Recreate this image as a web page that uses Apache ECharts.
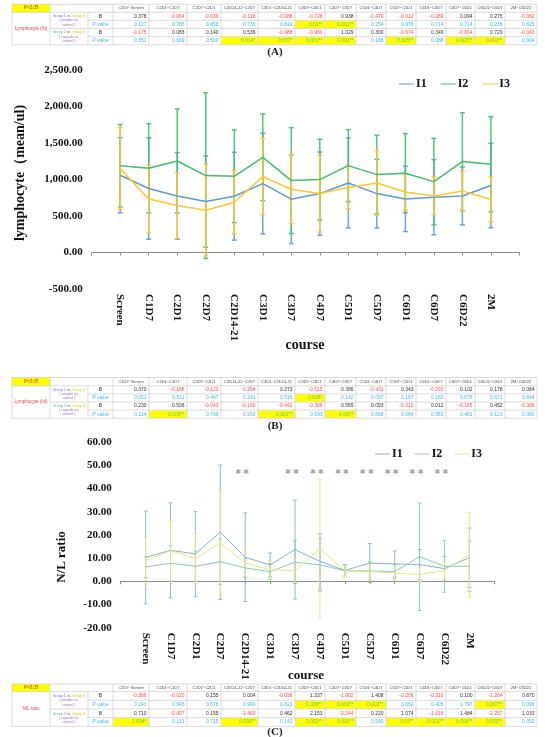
<!DOCTYPE html>
<html><head><meta charset="utf-8">
<script src="https://cdn.jsdelivr.net/npm/echarts@6/dist/echarts.min.js"></script>
<style>html,body{margin:0;padding:0;background:#fff}#c{width:550px;height:737px}</style>
</head><body><div id="c"></div>
<script>
// ---------------- data ----------------
const categories = ['Screen','C1D7','C2D1','C2D7','C2D14-21','C3D1','C3D7','C4D7','C5D1','C5D7','C6D1','C6D7','C6D22','2M'];
const seriesNames = ['I1','I2','I3'];

const lymMeanI1 = [1058, 876, 775, 698, 771, 944, 730, 807, 953, 807, 734, 757, 775, 917];
const lymSdI1   = [515, 694, 593, 625, 602, 689, 607, 570, 616, 470, 447, 515, 397, 579];
const lymMeanI2 = [1190, 1154, 1254, 1054, 1044, 1304, 985, 999, 1190, 1067, 1086, 971, 1245, 1209];
const lymSdI2   = [565, 611, 712, 1135, 634, 593, 725, 552, 493, 538, 542, 593, 671, 652];
const lymMeanI3 = [1149, 734, 643, 579, 689, 1040, 867, 807, 889, 953, 830, 775, 844, 725];
const lymSdI3   = [561, 460, 451, 625, 434, 520, 474, 525, 290, 443, 250, 260, 273, 306];
const lymTicks  = {min: -500, max: 2500, step: 500};

const nlMeanI1 = [10.3, 13.4, 11.8, 21.2, 10.4, 7.1, 13.7, 8.6, 4.7, 7.9, 7.5, 7.2, 5.5, 10.2];
const nlSdI1   = [20.0, 20.5, 18.4, 29.0, 19.1, 5.1, 21.3, 12.0, 2.5, 8.4, 5.6, 6.5, 5.3, 12.8];
const nlMeanI2 = [6.2, 7.8, 6.5, 8.5, 5.8, 4.2, 8.3, 7.1, 4.6, 4.5, 4.2, 10.6, 6.5, 6.5];
const nlSdI2   = [4.5, 7.5, 6.5, 9.8, 4.0, 3.5, 9.2, 11.5, 2.6, 4.0, 3.0, 23.2, 11.2, 10.8];
const nlMeanI3 = [8.9, 13.2, 9.8, 16.5, 7.9, 5.0, 4.6, 14.1, 4.5, 4.2, 3.6, 3.0, 4.6, 11.5];
const nlSdI3   = [10.2, 13.2, 10.8, 22.5, 5.8, 4.0, 5.0, 30.0, 2.4, 4.0, 3.0, 3.0, 4.0, 18.3];
const nlTicks  = {min: -20, max: 60, step: 10};
const nlSigCats = ['C2D14-21','C3D7','C4D7','C5D1','C5D7','C6D1','C6D7','C6D22'];
const nlSigLevel = 47;
const nlSigMark = '✱ ✱';

const tableCols = ['C1D7~Screen','C2D1~C1D7','C2D7~C2D1','C2D14-21~C2D7','C3D1~C2D14-21','C3D7~C3D1','C4D7~C3D7','C5D1~C4D7','C5D7~C5D1','C6D1~C5D7','C6D7~C6D1','C6D22~C6D7','2M~C6D22'];

const tA_B1 = ['0.378','-0.064','-0.039','-0.116','-0.088','-0.728','0.938','-0.470','-0.012','-0.089','0.094','0.275','-0.082'];
const tA_P1 = ['0.127','0.785','0.858','0.736','0.819','0.01**','0.001**','0.254','0.976','0.714','0.714','0.235','0.825'];
const tA_B2 = ['-0.175','0.083','0.140','0.536','-0.488','-0.980','1.029','0.300','-0.674','0.349','-0.664','0.729','-0.043'];
const tA_P2 = ['0.351','0.669','0.500','0.014*','0.037*','0.001**','0.001**','0.188','0.005**','0.088','0.003**','0.003**','0.904'];

const tB_B1 = ['0.370','-0.188','-0.120','-0.264','0.273','-0.515','0.386','-0.432','0.343','-0.293','0.102','0.178','0.064'];
const tB_P1 = ['0.051','0.511','0.447','0.241','0.516','0.028*','0.142','0.097','0.167','0.181','0.678','0.671','0.844'];
const tB_B2 = ['0.230','0.506','-0.043','-0.180','-0.442','-0.306','0.565','0.093','-0.310','0.012','-0.185','0.452','-0.306'];
const tB_P2 = ['0.114','0.009**','0.799','0.291','0.001**','0.193','0.047*','0.668','0.084','0.953','0.461','0.121','0.380'];

const tC_B1 = ['-0.366','-0.020','0.155','0.004','-0.096','1.337','-1.802','1.408','-0.206','-0.316','0.100','-1.264','0.870'];
const tC_P1 = ['0.243','0.946','0.578','0.990','0.821','0.008**','0.000**','0.002**','0.662','0.405','0.797','0.007**','0.096'];
const tC_B2 = ['0.710','-0.407','0.155','-1.463','0.462','2.153','-2.244','0.220','1.074','-1.016','1.484','-2.257','1.033'];
const tC_P2 = ['0.034*','0.113','0.715','0.000**','0.141','0.000**','0.000**','0.545','0.01**','0.001**','0.000**','0.000**','0.052'];

// ---------------- layout / style ----------------
const SERIF = '"Liberation Serif","Times New Roman",serif';
const SANS = '"Liberation Sans",Arial,sans-serif';
const colorsA = ['#5b9bd5', '#3fbf6a', '#ffc62e'];
const colorsB = ['#7eb3d3', '#7fcdb6', '#ece47f'];
const cat16 = [' '].concat(categories, ['  ']);

function fmt2(v){ return v.toLocaleString('en-US',{minimumFractionDigits:2, maximumFractionDigits:2}); }

function lineSeries(name, means, color, gi, lw){
  return {type:'line', name, xAxisIndex: gi*2, yAxisIndex: gi,
    data: means.map((v,i)=>[i+1, v]), symbol:'none', showSymbol:false,
    lineStyle:{color, width:lw}, itemStyle:{color}, z:4, animation:false, silent:true};
}
function errSeries(name, means, sds, color, gi, lw, cap){
  return {type:'custom', name: name+' err', xAxisIndex: gi*2, yAxisIndex: gi,
    data: means.map((v,i)=>[i+1, v, sds[i]]), encode:{x:0, y:1},
    renderItem(params, api){
      const x = api.value(0), m = api.value(1), e = api.value(2);
      const p1 = api.coord([x, m+e]), p2 = api.coord([x, m-e]);
      const st = {stroke: color, lineWidth: lw, opacity: 0.9};
      return {type:'group', children:[
        {type:'line', shape:{x1:p1[0],y1:p1[1],x2:p2[0],y2:p2[1]}, style:st},
        {type:'line', shape:{x1:p1[0]-cap,y1:p1[1],x2:p1[0]+cap,y2:p1[1]}, style:st},
        {type:'line', shape:{x1:p2[0]-cap,y1:p2[1],x2:p2[0]+cap,y2:p2[1]}, style:st}
      ]};
    }, z:3, animation:false, silent:true, clip:false};
}

function xAxes(gi){
  return [
    {type:'category', gridIndex:gi, data:cat16, boundaryGap:false, position:'bottom',
     axisLine:{show:true, onZero:true, lineStyle:{color:'#8c8c8c', width:1}},
     axisTick:{show:true, length:3, interval:0, lineStyle:{color:'#8c8c8c'}},
     axisLabel:{show:false}, splitLine:{show:false}},
    {type:'category', gridIndex:gi, data:cat16, boundaryGap:false, position:'bottom',
     axisLine:{show:false, onZero:false}, axisTick:{show:false},
     axisLabel:{show:true, interval:0, rotate:-90, margin:5, color:'#111',
       fontFamily:SERIF, fontWeight:'bold', fontSize:11}, splitLine:{show:false}}
  ];
}
function yAxis(gi, t){
  return {type:'value', gridIndex:gi, min:t.min, max:t.max, interval:t.step,
    axisLine:{show:false}, axisTick:{show:false}, splitLine:{show:false},
    axisLabel:{formatter: fmt2, color:'#111', fontFamily:SERIF, fontWeight:'bold', fontSize:11, margin:9}};
}

// ---------------- tables (graphic) ----------------
const colW = [36,38,34,37,37,30,31,30,30,30,29,30,32];
function txt(x, y, text, font, fill, align, extra){
  return Object.assign({type:'text', x, y, silent:true,
    style:{text, font, fill, align: align||'center', verticalAlign:'middle', textAlign: align||'center', textVerticalAlign:'middle'}}, extra||{});
}
function rect(x, y, w, h, fill){
  return {type:'rect', silent:true, shape:{x, y, width:w, height:h}, style:{fill}};
}
function hline(x1, x2, y){
  return {type:'line', silent:true, shape:{x1, y1:y, x2, y2:y}, style:{stroke:'#c4c4c4', lineWidth:0.6}};
}
function vline(x, y1, y2){
  return {type:'line', silent:true, shape:{x1:x, y1, x2:x, y2}, style:{stroke:'#c4c4c4', lineWidth:0.6}};
}
function buildTable(t){
  const els = [];
  const x0 = 12, c1 = 50, c2 = 88, c3 = 113;
  const edges = [c3]; colW.forEach(w => edges.push(edges[edges.length-1] + w));
  const right = edges[edges.length-1];
  const top = t.top, hh = t.headerH, rh = t.rowH;
  const r0 = top + hh;
  const rowY = [r0, r0+rh, r0+2*rh, r0+3*rh, r0+4*rh];
  els.push(rect(x0, top, c1-x0, hh, '#ffff00'));
  const rows = [t.b1, t.p1, t.b2, t.p2];
  rows.forEach((row, ri) => {
    row.forEach((v, ci) => {
      const isP = ri % 2 === 1;
      const sig = isP && v.indexOf('*') >= 0;
      if (sig) els.push(rect(edges[ci]+0.3, rowY[ri]+0.3, colW[ci]-0.6, rh-0.6, '#ffff00'));
      let color = '#333';
      if (isP) color = sig ? '#77c043' : '#3bb8ea';
      else if (v.charAt(0) === '-') color = '#ff4b4b';
      els.push(txt(edges[ci+1]-2.5, rowY[ri]+rh/2, v, '5px ' + SANS, color, 'right'));
    });
  });
  els.push(hline(x0, right, top));
  els.push(hline(x0, right, r0));
  els.push(hline(c2, right, rowY[1]));
  els.push(hline(c1, right, rowY[2]));
  els.push(hline(c2, right, rowY[3]));
  els.push(hline(x0, right, rowY[4]));
  els.push(vline(x0, top, rowY[4]));
  els.push(vline(c1, top, rowY[4]));
  els.push(vline(c2, r0, rowY[4]));
  edges.forEach(e => els.push(vline(e, top, rowY[4])));
  els.push(txt((x0+c1)/2, top+hh/2, 'P<0.05', 'italic 4.5px ' + SANS, '#b03030'));
  tableCols.forEach((c, ci) => els.push(txt((edges[ci]+edges[ci+1])/2, top+hh/2, c, '4px ' + SANS, '#444')));
  els.push(txt((x0+c1)/2, (r0+rowY[4])/2, t.label, '4.5px ' + SANS, '#e33b3b'));
  const grp = (g, gc, y0, kind) => ({type:'text', x:(c1+c2)/2, y:y0, silent:true,
    style:{text:'{g|'+g+'} {v|vs.} {y|Group 3}\n{p|( '+kind+' vs.}\n{p|control )}',
      align:'center', verticalAlign:'middle', textAlign:'center', textVerticalAlign:'middle',
      font:'3.6px ' + SANS, lineHeight:4.2,
      rich:{g:{fill:gc, color:gc, fontSize:3.6, fontFamily:SANS}, v:{fill:'#666', color:'#666', fontSize:3.6, fontFamily:SANS},
            y:{fill:'#d8c800', color:'#d8c800', fontSize:3.6, fontFamily:SANS}, p:{fill:'#9966cc', color:'#9966cc', fontSize:3.6, fontFamily:SANS}}}});
  els.push(grp('Group 1', '#6f6fe0', r0+rh, 'powder'));
  els.push(grp('Group 2', '#4cbf60', r0+3*rh, 'capsule'));
  const mid = (c2+c3)/2;
  els.push(txt(mid, rowY[0]+rh/2, 'B', '5px ' + SANS, '#333'));
  els.push(txt(mid, rowY[1]+rh/2, 'P value', 'italic 5px ' + SANS, '#3bb8ea'));
  els.push(txt(mid, rowY[2]+rh/2, 'B', '5px ' + SANS, '#333'));
  els.push(txt(mid, rowY[3]+rh/2, 'P value', 'italic 5px ' + SANS, '#3bb8ea'));
  els.push(txt(275, t.capY, t.cap, 'bold 11px ' + SERIF, '#222'));
  return els;
}

const graphics = [].concat(
  buildTable({top:4.2, headerH:8, rowH:8.15, label:'Lymphocyte (%)', b1:tA_B1, p1:tA_P1, b2:tA_B2, p2:tA_P2, cap:'(A)', capY:52}),
  buildTable({top:377.5, headerH:8.3, rowH:8.1, label:'Lymphocyte (/ul)', b1:tB_B1, p1:tB_P1, b2:tB_B2, p2:tB_P2, cap:'(B)', capY:426}),
  buildTable({top:684, headerH:7.6, rowH:8.7, label:'N/L ratio', b1:tC_B1, p1:tC_P1, b2:tC_B2, p2:tC_P2, cap:'(C)', capY:732}),
  [
    txt(20, 173, 'lymphocyte（mean/ul)', 'bold 14px ' + SERIF, '#111', 'center', {rotation: Math.PI/2}),
    txt(305, 345, 'course', 'bold 14px ' + SERIF, '#111'),
    txt(62, 557, 'N/L ratio', 'bold 13px ' + SERIF, '#111', 'center', {rotation: Math.PI/2}),
    txt(306, 676, 'course', 'bold 13px ' + SERIF, '#111')
  ]
);

// ---------------- chart ----------------
const chart = echarts.init(document.getElementById('c'), null, {renderer:'canvas', width:550, height:737});
const lymMeans = [lymMeanI1, lymMeanI2, lymMeanI3], lymSds = [lymSdI1, lymSdI2, lymSdI3];
const nlMeans = [nlMeanI1, nlMeanI2, nlMeanI3], nlSds = [nlSdI1, nlSdI2, nlSdI3];
const nlNames = seriesNames.map(n => n + ' ');

const series = [];
seriesNames.forEach((n, k) => series.push(errSeries(n, lymMeans[k], lymSds[k], colorsA[k], 0, 1.5, 2.5)));
seriesNames.forEach((n, k) => series.push(lineSeries(n, lymMeans[k], colorsA[k], 0, 1.5)));
nlNames.forEach((n, k) => series.push(errSeries(n, nlMeans[k], nlSds[k], colorsB[k], 1, 1, 2)));
nlNames.forEach((n, k) => series.push(lineSeries(n, nlMeans[k], colorsB[k], 1, 1)));
series.push({type:'scatter', name:'sig', xAxisIndex:2, yAxisIndex:1, symbolSize:0, silent:true, animation:false,
  data: nlSigCats.map(c => [categories.indexOf(c)+1, nlSigLevel]),
  label:{show:true, position:'inside', formatter: nlSigMark, color:'#888', fontFamily:'"DejaVu Sans"', fontSize:7, offset:[-3,0]}});

const legendText = {fontFamily:SERIF, fontWeight:'bold', fontSize:12, color:'#111', padding:[0,0,0,-3]};
chart.setOption({
  animation:false,
  backgroundColor:'#fff',
  grid:[
    {left:91.7, right:30.6, top:70, bottom:448, containLabel:false},
    {left:120.7, right:55.7, top:442.3, bottom:109.3, containLabel:false}
  ],
  xAxis: xAxes(0).concat(xAxes(1)),
  yAxis: [yAxis(0, lymTicks), yAxis(1, nlTicks)],
  legend:[
    {data:seriesNames, top:73, right:35, itemWidth:15, itemHeight:8, itemGap:14, textStyle:legendText, selectedMode:false, icon:'path://M0,4 L15,4 L15,5 L0,5 Z'},
    {data:nlNames, top:443, right:60, itemWidth:15, itemHeight:8, itemGap:9, textStyle:legendText, selectedMode:false, icon:'path://M0,4 L15,4 L15,5 L0,5 Z'}
  ],
  series,
  graphic: {elements: graphics}
});
</script>
</body></html>
